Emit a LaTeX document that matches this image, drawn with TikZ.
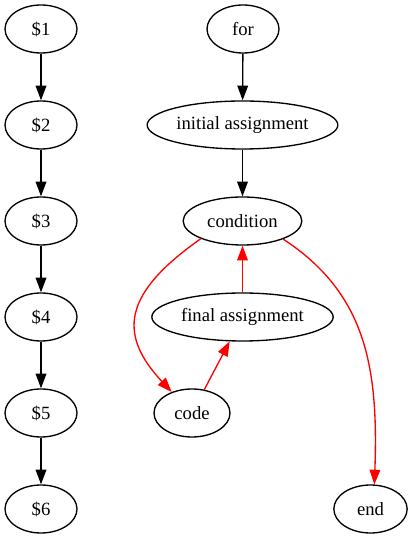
\documentclass[tikz,border=0pt]{standalone}
\usepackage{fontspec}
\setmainfont{Liberation Serif}
\usetikzlibrary{shapes.geometric,arrows.meta}
\begin{document}
\begin{tikzpicture}[x=0.75pt,y=0.75pt,
  gnode/.style={draw,ellipse,line width=1pt,inner sep=0pt,minimum height=36pt,
    minimum width=#1,font=\fontsize{14}{16}\selectfont},
  gnode/.default=54pt,
  edge/.style={line width=1pt,-{Triangle[length=11pt,width=8pt]}},
  redge/.style={edge,red}]
\useasboundingbox (0,0) rectangle (412,539);
% left chain
\node[gnode] (d1) at (41,510) {\makebox[0pt]{\$1}};
\node[gnode] (d2) at (41,414) {\makebox[0pt]{\$2}};
\node[gnode] (d3) at (41,318) {\makebox[0pt]{\$3}};
\node[gnode] (d4) at (41,222) {\makebox[0pt]{\$4}};
\node[gnode] (d5) at (41,126) {\makebox[0pt]{\$5}};
\node[gnode] (d6) at (41,30)  {\makebox[0pt]{\$6}};
% right graph
\node[gnode] (for) at (243,510) {\makebox[0pt]{for}};
\node[gnode=143pt] (init) at (242.5,414) {\makebox[0pt]{initial assignment}};
\node[gnode=89pt] (cond) at (242.5,318) {\makebox[0pt]{condition}};
\node[gnode=136pt] (final) at (242.5,222) {\makebox[0pt]{final assignment}};
\node[gnode=57pt] (code) at (192,126) {\makebox[0pt]{code}};
\node[gnode=55pt] (end) at (370.5,30) {\makebox[0pt]{end}};
% edges
\draw[edge] (d1) -- (d2);
\draw[edge] (d2) -- (d3);
\draw[edge] (d3) -- (d4);
\draw[edge] (d4) -- (d5);
\draw[edge] (d5) -- (d6);
\draw[edge] (for) -- (init);
\draw[edge] (init) -- (cond);
\draw[redge] (cond.203) .. controls +(-78,-55) and +(-54,58) .. (code.134);
\draw[redge] (code) -- (final);
\draw[redge] (final) -- (cond);
\draw[redge] (cond.336) .. controls +(84,-55) and +(4,115) .. (end.81);
\end{tikzpicture}
\end{document}
